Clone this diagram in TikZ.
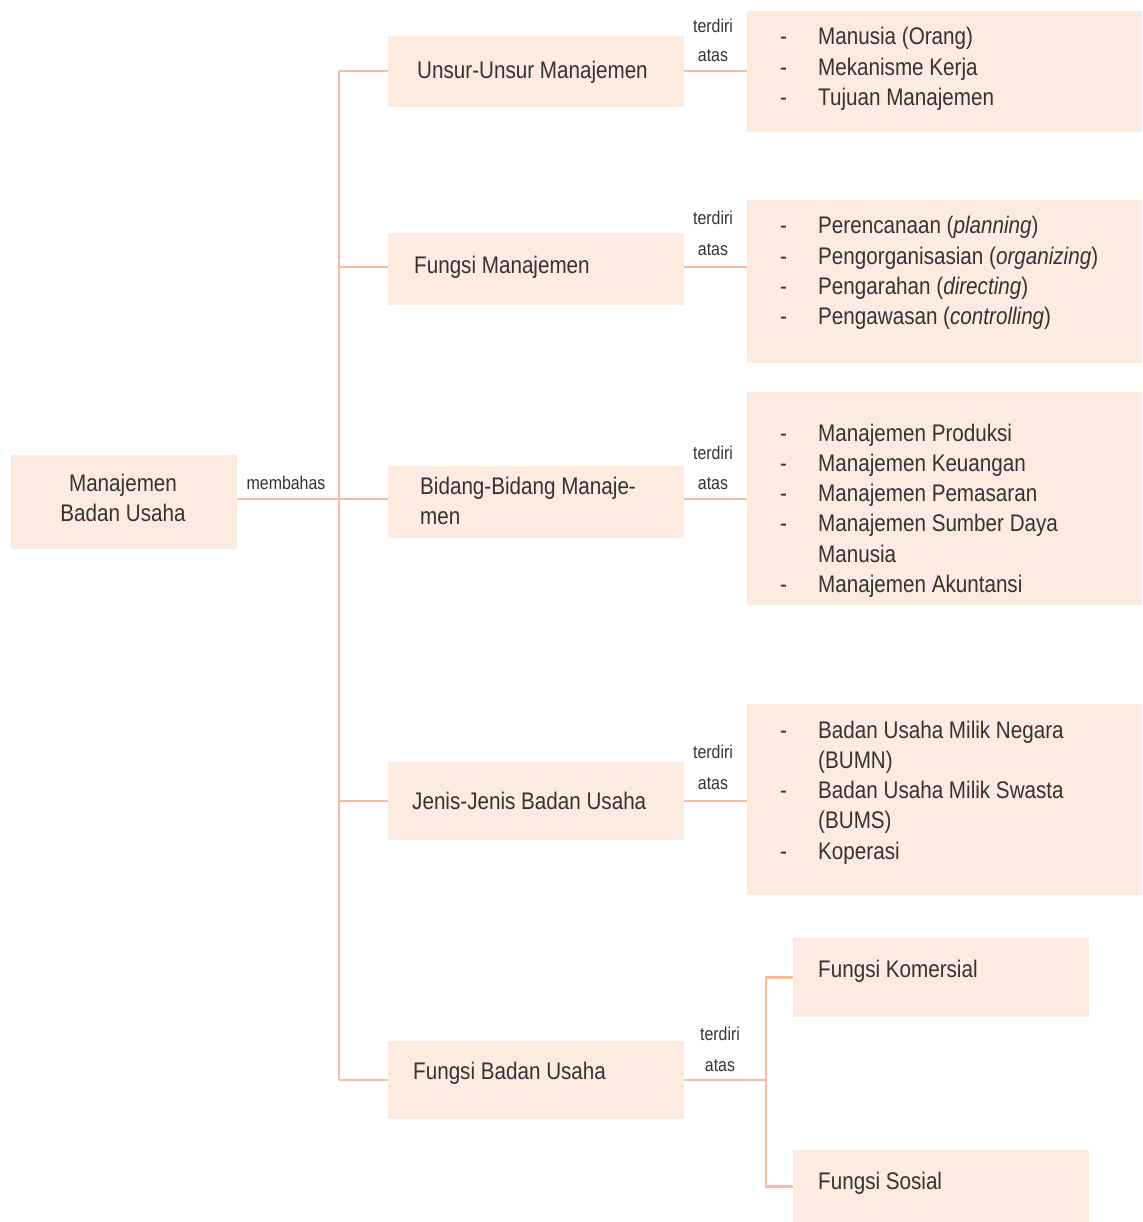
\documentclass[tikz,border=0pt]{standalone}
\usepackage{fontspec}
\setmainfont{Liberation Sans}[FakeStretch=0.86]
\definecolor{boxfill}{HTML}{FDEAE1}
\definecolor{linec}{HTML}{F8BC9E}
\definecolor{txt}{HTML}{333333}
\newcommand{\bigf}{\fontsize{24}{30.3}\selectfont}
\newcommand{\smallf}{\fontsize{18.5}{22}\selectfont}
\begin{document}
\begin{tikzpicture}[x=1pt,y=-1pt,
  box/.style={fill=boxfill,draw=none,anchor=north west,inner sep=0pt},
  conn/.style={draw=linec,line width=2.8pt},
  big/.style={font=\bigf,text=txt,inner sep=0pt},
  lbl/.style={font=\smallf,text=txt,inner sep=0pt,anchor=base},
  list/.style={font=\bigf,text=txt,inner sep=0pt,anchor=base west}]
\useasboundingbox (0,0) rectangle (1142,1222);
% ---------- boxes ----------
\node[box,minimum width=226pt,minimum height=94pt] (root) at (11,455) {};
\node[box,minimum width=296pt,minimum height=71pt] (m1) at (388,36) {};
\node[box,minimum width=296pt,minimum height=72pt] (m2) at (388,233) {};
\node[box,minimum width=296pt,minimum height=72pt] (m3) at (388,466) {};
\node[box,minimum width=296pt,minimum height=78pt] (m4) at (388,762) {};
\node[box,minimum width=296pt,minimum height=78pt] (m5) at (388,1041) {};
\node[box,minimum width=395pt,minimum height=121pt] (r1) at (747,11) {};
\node[box,minimum width=395pt,minimum height=163pt] (r2) at (747,200) {};
\node[box,minimum width=395pt,minimum height=213pt] (r3) at (747,392) {};
\node[box,minimum width=395pt,minimum height=191pt] (r4) at (747,704) {};
\node[box,minimum width=296pt,minimum height=79pt] (kom) at (793,938) {};
\node[box,minimum width=296pt,minimum height=72pt] (sos) at (793,1150) {};
% ---------- connectors ----------
\coordinate (spine) at (339,0);
\coordinate (brk) at (766,0);
\coordinate (y1) at (0,71);
\coordinate (y2) at (0,267);
\coordinate (y3) at (0,499);
\coordinate (y4) at (0,801);
\coordinate (y5) at (0,1080);
\draw[conn] (spine |- y1) -- (spine |- y5);
\draw[conn] (root.east |- y3) -- (m3.west |- y3);
\foreach \i in {1,2,4,5}{\draw[conn] (spine |- y\i) -- (m\i.west |- y\i);}
\foreach \i in {1,2,3,4}{\draw[conn] (m\i.east |- y\i) -- (r\i.west |- y\i);}
\draw[conn] (m5.east |- y5) -- (brk |- y5);
\draw[conn] (kom.west) -| (brk |- sos.west) -- (sos.west);
% ---------- texts ----------
\node[big,anchor=base] (troot) at (123,491) {\begin{tabular}[t]{@{}c@{}}Manajemen\\Badan Usaha\end{tabular}};
\node[lbl] (lmem) at (286,489) {membahas};
\node[big,anchor=base west] (t1) at (417,79) {Unsur-Unsur Manajemen};
\node[big,anchor=base west] (t2) at (414,274) {Fungsi Manajemen};
\node[big,anchor=base west] (t3) at (420,494) {\begin{tabular}[t]{@{}l@{}}Bidang-Bidang Manaje-\\men\end{tabular}};
\node[big,anchor=base west] (t4) at (412,809) {Jenis-Jenis Badan Usaha};
\node[big,anchor=base west] (t5) at (413,1079) {Fungsi Badan Usaha};
\node[big,anchor=base west] (tk) at (818,977) {Fungsi Komersial};
\node[big,anchor=base west] (ts) at (818,1189) {Fungsi Sosial};
% terdiri atas labels
\node[lbl] (a1) at (713,33) {terdiri};  \node[lbl] (b1) at (713,62) {atas};
\node[lbl] (a2) at (713,225) {terdiri}; \node[lbl] (b2) at (713,256) {atas};
\node[lbl] (a3) at (713,459) {terdiri}; \node[lbl] (b3) at (713,489) {atas};
\node[lbl] (a4) at (713,758) {terdiri}; \node[lbl] (b4) at (713,789) {atas};
\node[lbl] (a5) at (720,1040) {terdiri}; \node[lbl] (b5) at (720,1071) {atas};
% lists
\node[list] (l1) at (780,45) {\begin{tabular}[t]{@{}p{38pt}@{}l@{}}
-&Manusia (Orang)\\
-&Mekanisme Kerja\\
-&Tujuan Manajemen\end{tabular}};
\node[list] (l2) at (780,234) {\begin{tabular}[t]{@{}p{38pt}@{}l@{}}
-&Perencanaan (\textit{planning})\\
-&Pengorganisasian (\textit{organizing})\\
-&Pengarahan (\textit{directing})\\
-&Pengawasan (\textit{controlling})\end{tabular}};
\node[list] (l3) at (780,441) {\begin{tabular}[t]{@{}p{38pt}@{}l@{}}
-&Manajemen Produksi\\
-&Manajemen Keuangan\\
-&Manajemen Pemasaran\\
-&Manajemen Sumber Daya\\
&Manusia\\
-&Manajemen Akuntansi\end{tabular}};
\node[list] (l4) at (780,738) {\begin{tabular}[t]{@{}p{38pt}@{}l@{}}
-&Badan Usaha Milik Negara\\
&(BUMN)\\
-&Badan Usaha Milik Swasta\\
&(BUMS)\\
-&Koperasi\end{tabular}};
\end{tikzpicture}
\end{document}
